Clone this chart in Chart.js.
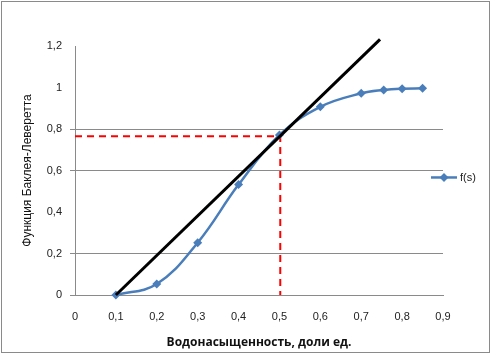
<!DOCTYPE html>
<html><head><meta charset="utf-8">
<script src="https://cdn.jsdelivr.net/npm/chart.js@4/dist/chart.umd.min.js"></script>
<style>html,body{margin:0;padding:0;background:#fff}#wrap{width:491px;height:354px}</style>
</head><body><div id="wrap"><canvas id="c" width="491" height="354"></canvas></div>
<script>
const sValues = [0.1, 0.2, 0.3, 0.4, 0.5, 0.6, 0.7, 0.755, 0.8, 0.85];
const fValues = [0, 0.053, 0.252, 0.532, 0.771, 0.907, 0.972, 0.988, 0.994, 0.996];
const tangentX = [0.1, 0.746];
const tangentY = [0, 1.232];
const dashX = [0, 0.502, 0.502];
const dashY = [0.765, 0.765, 0];
const seriesLabel = 'f(s)';
const xTitle = 'Водонасыщенность, доли ед.';
const yTitle = 'Функция Баклея-Леверетта';
const hiddenGrid = [0.4, 1.0, 1.2];

const zip = (xs, ys) => xs.map((x, i) => ({x, y: ys[i]}));
const BLUE = '#4A7EBB';
const fmt = v => String(Math.round(v * 10) / 10).replace('.', ',');

const frame = {
  id: 'frame',
  beforeDraw(c) {
    const ctx = c.ctx;
    ctx.save();
    ctx.fillStyle = '#fff';
    ctx.fillRect(0, 0, c.width, c.height);
    ctx.strokeStyle = '#8a8a8a';
    ctx.lineWidth = 1;
    ctx.strokeRect(1.5, 1.5, c.width - 3, c.height - 3);
    ctx.restore();
  },
  afterDraw(c) {
    const ctx = c.ctx, a = c.chartArea;
    const x0 = a.right - 12, y0 = a.top + a.height * 0.528;
    ctx.save();
    ctx.strokeStyle = BLUE; ctx.lineWidth = 2.5;
    ctx.beginPath(); ctx.moveTo(x0, y0); ctx.lineTo(x0 + 26, y0); ctx.stroke();
    ctx.fillStyle = BLUE;
    ctx.beginPath();
    ctx.moveTo(x0 + 13, y0 - 4.5); ctx.lineTo(x0 + 17.5, y0); ctx.lineTo(x0 + 13, y0 + 4.5); ctx.lineTo(x0 + 8.5, y0);
    ctx.closePath(); ctx.fill();
    ctx.fillStyle = '#222';
    ctx.font = '11px "Liberation Sans", Arial, sans-serif';
    ctx.textBaseline = 'middle';
    ctx.fillText(c.data.datasets[1].label, x0 + 29, y0);
    ctx.restore();
  }
};

new Chart(document.getElementById('c'), {
  type: 'scatter',
  data: {
    datasets: [
      {label: 'tangent', data: zip(tangentX, tangentY), showLine: true, borderColor: '#000', borderWidth: 3, pointRadius: 0, clip: false},
      {label: seriesLabel, data: zip(sValues, fValues), showLine: true, borderColor: BLUE, backgroundColor: BLUE, borderWidth: 2.5,
       pointStyle: 'rectRot', pointRadius: 4.5, pointBorderWidth: 0, tension: 0.4, clip: false},
      {label: 'dash', data: zip(dashX, dashY), showLine: true, borderColor: '#FF0000', borderWidth: 2, borderDash: [7, 5], pointRadius: 0, clip: false}
    ]
  },
  options: {
    responsive: false, animation: false, devicePixelRatio: 1,
    layout: {padding: {top: 46, right: 48, bottom: 0, left: 0}},
    plugins: {legend: {display: false}, tooltip: {enabled: false}},
    scales: {
      x: {
        type: 'linear', min: 0, max: 0.9,
        afterFit(s) { s.height = 59; },
        grid: {display: false, drawTicks: false},
        border: {display: true, color: '#8a8a8a', width: 1},
        ticks: {stepSize: 0.1, padding: 15, color: '#222', font: {family: '"Liberation Sans", Arial, sans-serif', size: 11}, callback: fmt},
        title: {display: true, text: xTitle, color: '#111', padding: {top: 4, bottom: 4}, font: {family: '"Open Sans", sans-serif', size: 12, weight: 'bold'}}
      },
      y: {
        min: 0, max: 1.2,
        afterFit(s) { s.width = 75; },
        grid: {
          color: ctx => hiddenGrid.some(v => Math.abs(v - ctx.tick.value) < 1e-6) ? 'rgba(0,0,0,0)' : '#8a8a8a',
          tickLength: 5, lineWidth: 1
        },
        border: {display: true, color: '#8a8a8a', width: 1},
        ticks: {stepSize: 0.2, padding: 8, color: '#222', font: {family: '"Liberation Sans", Arial, sans-serif', size: 11}, callback: fmt},
        title: {display: true, text: yTitle, color: '#111', padding: {top: 20, bottom: 0}, font: {family: '"Liberation Sans", Arial, sans-serif', size: 12}}
      }
    }
  },
  plugins: [frame]
});
</script></body></html>
